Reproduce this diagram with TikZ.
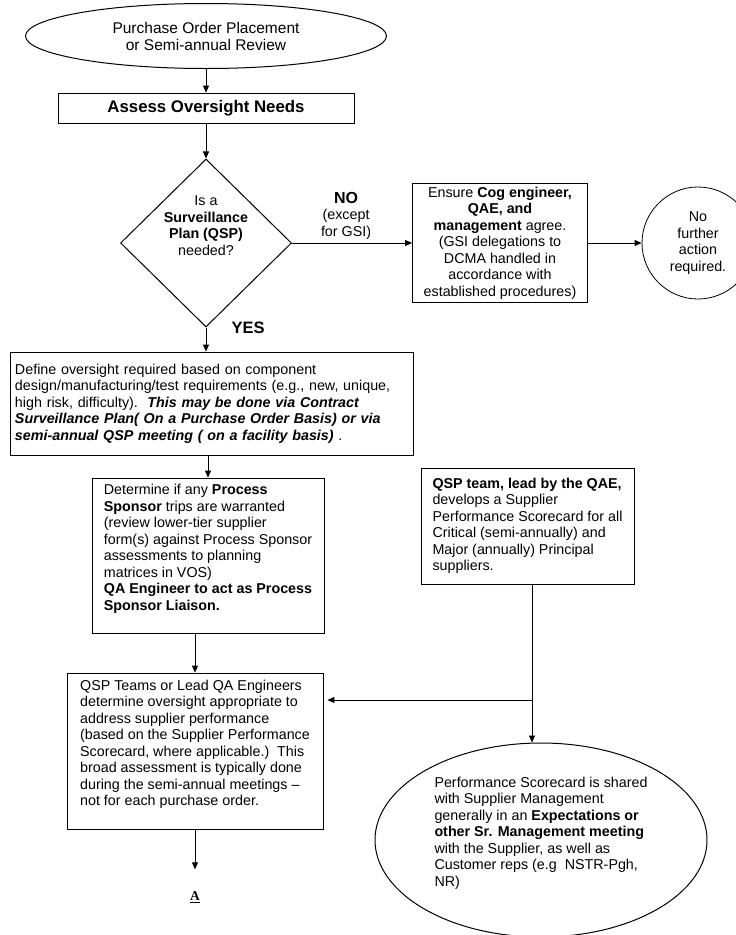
\documentclass[tikz,border=0pt]{standalone}
\usepackage{fontspec}
\setmainfont{Liberation Sans}
\newfontfamily\serifA{Liberation Serif}
\usetikzlibrary{arrows.meta,positioning,shapes.geometric}

\begin{document}
\begin{tikzpicture}[x=1pt, y=-1pt, >={Triangle[length=7pt,width=6pt]},
                    every node/.style={font=\fontsize{14.3}{16.5}\selectfont},
                    box/.style={draw, rectangle, line width=0.8pt},
                    oval/.style={draw, ellipse, line width=1pt, inner sep=0pt},
                    flow/.style={->, line width=0.8pt}]
   %\draw[help lines] (0,0) grid (736,935);
   \useasboundingbox (0,0) rectangle (736,935);

   \node[oval, minimum width=361, minimum height=65, align=center,
         font=\fontsize{15.5}{17}\selectfont]          (po_review) at (206,36)  {Purchase Order Placement\\or Semi-annual Review};
   \node[box, minimum width=296, minimum height=30,
         font=\bfseries\fontsize{16.8}{19}\selectfont] (assess)    at (206,108) {Assess Oversight Needs};
   \node[diamond, draw, line width=1pt, aspect=1, inner sep=0pt,
         minimum width=171, minimum height=168, align=center,
         text height=40pt, text depth=16pt]            (need_qsp)  at (206,243) {Is a\\\textbf{Surveillance}\\\textbf{Plan (QSP)}\\needed?};
   \node[box, minimum width=175, minimum height=119, align=center,
         inner sep=2pt]                                (ensure)    at (500,243) {Ensure \textbf{Cog engineer,}\\\textbf{QAE, and}\\\textbf{management} agree.\\(GSI delegations to\\DCMA handled in\\accordance with\\established procedures)};
   \node[draw, circle, line width=0.8pt, minimum size=112, align=center,
         inner sep=0pt]                                (no_action) at (698,243) {No\\further\\action\\required.};

   \node[box, minimum height=103, text width=393, inner xsep=5pt, align=left]
                                                       (define)    at (211.5,403.5) {Define oversight required based on component\\design/manufacturing/test requirements (e.g., new, unique,\\high risk, difficulty).\ \ \textbf{\textit{This may be done via Contract}}\\\textbf{\textit{Surveillance Plan( On a Purchase Order Basis) or via}}\\\textbf{\textit{semi-annual QSP meeting ( on a facility basis)}} .};
   \node[box, minimum width=232, minimum height=155, align=left]
                                                       (determine) at (208,555.5) {Determine if any \textbf{Process}\\\textbf{Sponsor} trips are warranted\\(review lower-tier supplier\\form(s) against Process Sponsor\\assessments to planning\\matrices in VOS)\\\textbf{QA Engineer to act as Process}\\\textbf{Sponsor Liaison.}\\~};
   \node[box, minimum width=213, minimum height=116, align=left]
                                                       (qsp_team)  at (527.5,526) {\textbf{QSP team, lead by the QAE,}\\develops a Supplier\\Performance Scorecard for all\\Critical (semi-annually) and\\Major (annually) Principal\\suppliers.};
   \node[box, minimum width=256, minimum height=156, align=left]
                                                       (qsp_teams) at (195,751) {QSP Teams or Lead QA Engineers\\determine oversight appropriate to\\address supplier performance\\(based on the Supplier Performance\\Scorecard, where applicable.)\ \ This\\broad assessment is typically done\\during the semi-annual meetings --\\not for each purchase order.\\~};
   \node[font=\serifA\bfseries\fontsize{13.5}{15}\selectfont,
         inner sep=0pt]                                (cont_a)    at (195,897) {\underline{A}};
   \node[oval, minimum width=332, minimum height=194, align=left]
                                                       (share)     at (541,840) {Performance Scorecard is shared\\with Supplier Management\\generally in an \textbf{Expectations or}\\\textbf{other Sr. Management meeting}\\with the Supplier, as well as\\Customer reps (e.g\ \ NSTR-Pgh,\\NR)\\~};

   % Define transitions
   \coordinate (junc) at (532,700);
   \path[flow]
    (po_review)  edge (assess)
    (assess)     edge (need_qsp)
    (need_qsp)   edge node [above, align=center, xshift=-6pt] {\textbf{\fontsize{16}{18}\selectfont NO}\\(except\\for GSI)} (ensure)
    (ensure)     edge (no_action)
    (need_qsp.south) edge node [at start, right=22pt, font=\bfseries\fontsize{16.5}{18}\selectfont] {YES} (need_qsp.south |- define.north)
    (define.south -| determine.north)    edge (determine.north)
    (determine.south -| qsp_teams.north) edge (qsp_teams.north)
    (qsp_teams.south) edge [shorten >=22pt] (cont_a.north)
    (junc)       edge [shorten >=4pt] (junc -| qsp_teams.east)
    (junc)       edge (junc |- share.north);
   \draw[line width=0.8pt] (qsp_team.south -| junc) -- (junc);

\end{tikzpicture}
\end{document}
